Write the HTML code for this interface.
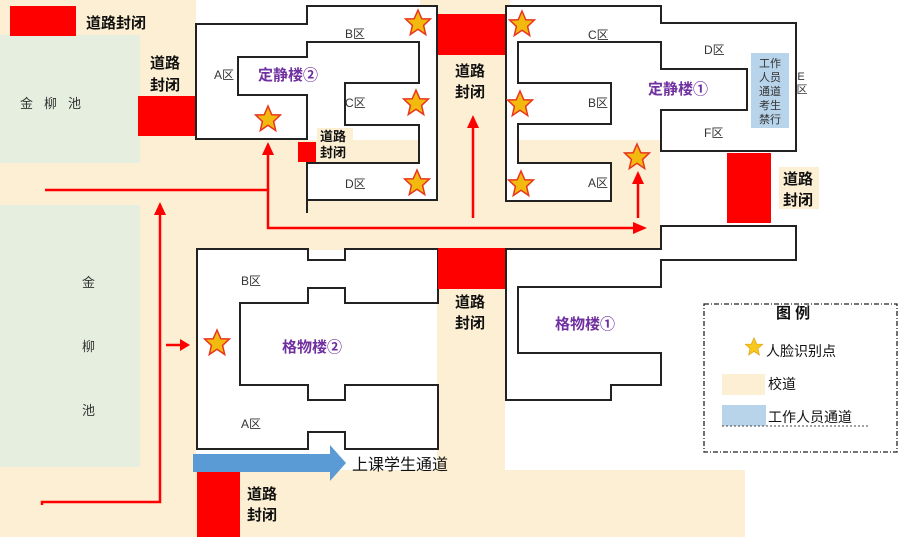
<!DOCTYPE html>
<html><head><meta charset="utf-8"><style>
html,body{margin:0;padding:0;background:#fff;}
svg{display:block;font-family:"Liberation Sans","Noto Sans CJK SC",sans-serif;}
.b{fill:#fff;stroke:#222;stroke-width:2;}
.z{font-size:12px;fill:#333;}
.t{font-size:15px;font-weight:bold;fill:#7030a0;}
.r{font-size:15px;font-weight:bold;fill:#111;}
</style></head><body>
<svg width="904" height="537" viewBox="0 0 904 537">
<defs>
<polygon id="st" points="0,-13 3.8,-4.2 12.4,-4 5.6,2.4 7.7,11.5 0,6.3 -7.7,11.5 -5.6,2.4 -12.4,-4 -3.8,-4.2" fill="#f2b90f" stroke="#e8361e" stroke-width="1.5"/>
<marker id="ah" markerWidth="8" markerHeight="8" refX="6" refY="4" orient="auto" markerUnits="userSpaceOnUse"><path d="M0,0 L12,4 L0,8Z" fill="#f00" transform="scale(0.7,1)"/></marker>
</defs>
<!-- beige roads -->
<g fill="#fcefd3">
<rect x="0" y="0" width="196" height="537"/>
<rect x="0" y="140" width="660" height="110"/>
<rect x="420" y="0" width="90" height="250"/>
<rect x="437" y="250" width="68" height="225"/>
<rect x="0" y="470" width="745" height="67"/>
<rect x="600" y="160" width="60" height="90"/>
</g>
<rect x="0" y="35" width="140" height="128" fill="#e6eedf"/>
<rect x="0" y="205" width="140" height="262" fill="#e6eedf"/>
<!-- buildings -->
<polygon class="b" points="196,24 307,24 307,6 437,6 437,200 307,200 307,163 419,163 419,125 345,125 345,83 419,83 419,42 307,42 307,57 238,57 238,95 307,95 307,139 196,139"/>
<line x1="307" y1="200" x2="307" y2="213" stroke="#222" stroke-width="2"/>
<polygon class="b" points="506,6 661,6 661,23 796,23 796,151 661,151 661,110 747,110 747,69 661,69 661,42 518,42 518,83 611,83 611,124 518,124 518,163 611,163 611,201 506,201"/>
<polygon class="b" points="506,249 661,249 661,226 796,226 796,260 661,260 661,287 518,287 518,353 661,353 661,385 611,385 611,400 506,400"/>
<polygon class="b" points="197,249 308,249 308,260 345,260 345,249 438,249 438,303 345,303 345,288 308,288 308,303 240,303 240,385 308,385 308,400 345,400 345,385 438,385 438,449 345,449 345,432 308,432 308,449 197,449"/>
<!-- red blocks -->
<g fill="#f00">
<rect x="10" y="6" width="66" height="30"/>
<rect x="138" y="96" width="57" height="40"/>
<rect x="298" y="142" width="18" height="20"/>
<rect x="438" y="14" width="67" height="41"/>
<rect x="727" y="153" width="44" height="70"/>
<rect x="438" y="248" width="67" height="41"/>
<rect x="197" y="472" width="43" height="65"/>
</g>
<!-- road closed labels -->
<text class="r" x="86" y="28">道路封闭</text>
<text class="r" x="150" y="68">道路</text><text class="r" x="150" y="90">封闭</text>
<rect x="317" y="128" width="36" height="32" fill="#fcefd3"/>
<text class="r" style="font-size:13px" x="320" y="141">道路</text><text class="r" style="font-size:13px" x="320" y="157">封闭</text>
<text class="r" x="455" y="76">道路</text><text class="r" x="455" y="97">封闭</text>
<rect x="779" y="167" width="40" height="42" fill="#fcefd3"/>
<text class="r" x="783" y="184">道路</text><text class="r" x="783" y="205">封闭</text>
<text class="r" x="455" y="307">道路</text><text class="r" x="455" y="328">封闭</text>
<text class="r" x="247" y="499">道路</text><text class="r" x="247" y="520">封闭</text>
<!-- staff box -->
<rect x="751" y="53" width="38" height="75" fill="#b8d4ea"/>
<g font-size="11" fill="#333" text-anchor="middle">
<text x="770" y="67">工作</text><text x="770" y="81">人员</text><text x="770" y="95">通道</text><text x="770" y="109">考生</text><text x="770" y="123">禁行</text>
<text x="801" y="80">E</text><text x="802" y="93">区</text>
</g>
<!-- zone labels -->
<text class="z" x="345" y="38">B区</text>
<text class="z" x="214" y="79">A区</text>
<text class="z" x="345" y="107">C区</text>
<text class="z" x="345" y="188">D区</text>
<text class="t" x="258" y="80">定静楼②</text>
<text class="z" x="588" y="39">C区</text>
<text class="z" x="704" y="54">D区</text>
<text class="z" x="588" y="107">B区</text>
<text class="t" x="648" y="94">定静楼①</text>
<text class="z" x="704" y="137">F区</text>
<text class="z" x="588" y="187">A区</text>
<text class="z" x="241" y="285">B区</text>
<text class="z" x="241" y="428">A区</text>
<text class="t" x="282" y="352">格物楼②</text>
<text class="t" x="555" y="329">格物楼①</text>
<g font-size="13" fill="#333">
<text x="20" y="108">金</text><text x="44" y="108">柳</text><text x="68" y="108">池</text>
<text x="82" y="287">金</text><text x="82" y="351">柳</text><text x="82" y="415">池</text>
</g>
<!-- stars -->
<use href="#st" x="418" y="23"/><use href="#st" x="416" y="103"/><use href="#st" x="417" y="183"/>
<use href="#st" x="268" y="119"/><use href="#st" x="522" y="24"/><use href="#st" x="520" y="104"/>
<use href="#st" x="521" y="184"/><use href="#st" x="637" y="157"/><use href="#st" x="217" y="343"/>
<!-- red arrows -->
<g stroke="#f00" stroke-width="2.5" fill="none">
<polyline points="45,190 268,190 268,228 635,228"/>
<line x1="268" y1="190" x2="268" y2="152"/>
<line x1="473" y1="218" x2="473" y2="125"/>
<line x1="638" y1="218" x2="638" y2="182"/>
<polyline points="42,505 42,502 160,502 160,212"/>
<line x1="166" y1="345" x2="182" y2="345"/>
</g>
<g fill="#f00">
<polygon points="268,142 262,155 274,155"/>
<polygon points="473,115 467,128 479,128"/>
<polygon points="638,171 632,184 644,184"/>
<polygon points="160,202 154,215 166,215"/>
<polygon points="647,228 633,222 633,234"/>
<polygon points="190,345 180,339 180,351"/>
</g>
<!-- blue arrow -->
<polygon points="193,454 330,454 330,445 346,463 330,481 330,472 193,472" fill="#5b9bd5"/>
<text x="352" y="470" font-size="16" fill="#111">上课学生通道</text>
<!-- legend -->
<rect x="704" y="304" width="193" height="148" fill="none" stroke="#222" stroke-width="1.3" stroke-dasharray="5,2,1,2"/>
<text x="776" y="318" font-size="15" font-weight="bold" fill="#111">图 例</text>
<polygon points="0,-13 3.8,-4.2 12.4,-4 5.6,2.4 7.7,11.5 0,6.3 -7.7,11.5 -5.6,2.4 -12.4,-4 -3.8,-4.2" fill="#f7c81e" stroke="#e0a010" transform="translate(754,347) scale(0.7)"/>
<text x="766" y="356" font-size="14" fill="#111">人脸识别点</text>
<rect x="722" y="374" width="43" height="21" fill="#fcefd3"/>
<text x="768" y="389" font-size="14" fill="#111">校道</text>
<rect x="722" y="405" width="44" height="21" fill="#b8d4ea"/>
<text x="768" y="422" font-size="14" fill="#111">工作人员通道</text>
<line x1="722" y1="426" x2="868" y2="426" stroke="#444" stroke-dasharray="2,2"/>
</svg>
</body></html>
